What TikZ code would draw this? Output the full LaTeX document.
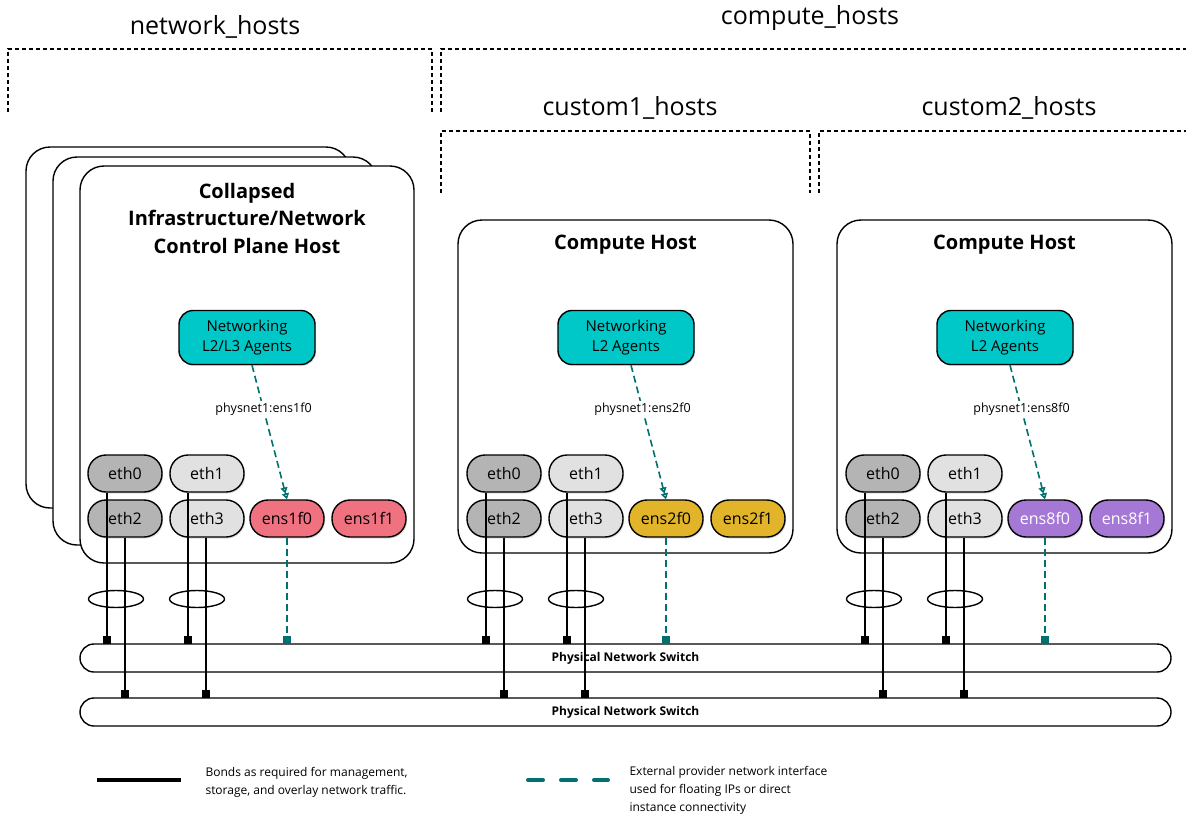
\documentclass[tikz,border=0pt]{standalone}
\usepackage{fontspec}
\setmainfont{Open Sans}
\usetikzlibrary{arrows.meta,shadows,shapes.geometric}
\definecolor{agentc}{RGB}{0,200,200}
\definecolor{extc}{RGB}{0,112,112}
\definecolor{ensA}{RGB}{240,114,128}
\definecolor{ensB}{RGB}{226,180,42}
\definecolor{ensC}{RGB}{166,120,214}
\definecolor{ethdark}{RGB}{180,180,180}
\definecolor{ethlight}{RGB}{225,225,225}
\begin{document}
\begin{tikzpicture}[x=1pt,y=-1pt,
  brk/.style={dash pattern=on 4pt off 3pt, line width=1.3pt},
  grouplabel/.style={font=\fontsize{25}{30}\selectfont},
  hostbox/.style={draw, line width=1.4pt, rounded corners=24pt, fill=white, inner sep=0},
  hosttitle/.style={font=\bfseries\fontsize{20}{27.5}\selectfont, align=center},
  shad/.style={drop shadow={opacity=0.25, shadow xshift=1.2pt, shadow yshift=-1.5pt}},
  agent/.style={draw, line width=1.4pt, fill=agentc, rounded corners=14pt, minimum width=136pt, minimum height=54pt, inner sep=0, align=center, font=\fontsize{15}{20.5}\selectfont, shad},
  pill/.style={draw, line width=1.4pt, rounded corners=18pt, minimum width=74pt, minimum height=37pt, inner sep=0, font=\fontsize{16}{18}\selectfont, shad},
  bondring/.style={draw, ellipse, line width=1.4pt, minimum width=55pt, minimum height=17pt, inner sep=0},
  sq/.style={rectangle, fill=black, minimum size=8pt, inner sep=0},
  switchbox/.style={draw, line width=1.4pt, rounded corners=14pt, fill=white, minimum width=1091pt, minimum height=28pt, inner sep=0, font=\bfseries\fontsize{12}{14}\selectfont},
  bond/.style={line width=1.4pt},
  ext/.style={extc, line width=1.6pt, dash pattern=on 7pt off 4pt},
  plabel/.style={fill=white, inner sep=2pt, text=black, font=\fontsize{12.5}{15}\selectfont},
  legtext/.style={anchor=west, align=left, font=\fontsize{12}{18}\selectfont}
]
\useasboundingbox (0,0) rectangle (1186,814);

% group brackets
\draw[brk] (8,112) -- (8,49) -- (432,49) -- (432,112);
\draw[brk] (441,112) -- (441,49) -- (1186,49);
\draw[brk] (441,193) -- (441,131) -- (810,131) -- (810,193);
\draw[brk] (819,193) -- (819,131) -- (1186,131);
\node[grouplabel] (gl1) at (215,27) {network\_hosts};
\node[grouplabel] (gl2) at (810,18) {compute\_hosts};
\node[grouplabel] (gl3) at (630,108) {custom1\_hosts};
\node[grouplabel] (gl4) at (1009,108) {custom2\_hosts};

% host boxes
\node[hostbox, minimum width=324pt, minimum height=361pt] (hb1) at (188,327.5) {};
\node[hostbox, minimum width=324pt, minimum height=388pt] (hb2) at (215,351) {};
\node[hostbox, minimum width=334pt, minimum height=397pt] (h1) at (247,364.5) {};
\node[hostbox, minimum width=335pt, minimum height=333pt] (h2) at (625.5,386.5) {};
\node[hostbox, minimum width=335pt, minimum height=333pt] (h3) at (1004.5,386.5) {};
\node[hosttitle] (t1) at (247,218) {Collapsed\\Infrastructure/Network\\Control Plane Host};
\node[hosttitle] (t2) at (625.5,245) {Compute Host};
\node[hosttitle] (t3) at (1004.5,245) {Compute Host};

% agents
\node[agent] (ag-1) at (247,337.5) {Networking\\L2/L3 Agents};
\node[agent] (ag-2) at (626,337.5) {Networking\\L2 Agents};
\node[agent] (ag-3) at (1005,337.5) {Networking\\L2 Agents};

% switches
\node[switchbox] (sw1) at (625.5,658) {Physical Network Switch};
\node[switchbox] (sw2) at (625.5,712) {Physical Network Switch};

\foreach \h/\X/\ea/\eb/\fc/\tc in {1/125/ens1f0/ens1f1/ensA/black, 2/504/ens2f0/ens2f1/ensB/black, 3/883/ens8f0/ens8f1/ensC/white}{
  \node[pill, fill=ethdark] (e0-\h) at (\X,473.5) {eth0};
  \node[pill, fill=ethdark] (e2-\h) at (\X,518.5) {eth2};
  \node[pill, fill=ethlight] (e1-\h) at (\X+82,473.5) {eth1};
  \node[pill, fill=ethlight] (e3-\h) at (\X+82,518.5) {eth3};
  \node[pill, fill=\fc, text=\tc] (ea-\h) at (\X+162,518.5) {\ea};
  \node[pill, fill=\fc, text=\tc] (eb-\h) at (\X+244,518.5) {\eb};
  \node[bondring] (r0-\h) at (\X-9,599) {};
  \node[bondring] (r1-\h) at (\X+72,599) {};
  \node[sq] (q0-\h) at (\X-18,640) {};
  \node[sq] (q1-\h) at (\X+63,640) {};
  \node[sq] (q2-\h) at (\X,694) {};
  \node[sq] (q3-\h) at (\X+81,694) {};
  \node[sq, fill=extc] (qa-\h) at (\X+162,640) {};
  \draw[bond] (e0-\h.south -| q0-\h) -- (q0-\h.north);
  \draw[bond] (e2-\h.south -| q2-\h) -- (q2-\h.north);
  \draw[bond] (e1-\h.south -| q1-\h) -- (q1-\h.north);
  \draw[bond] (e3-\h.south -| q3-\h) -- (q3-\h.north);
  \draw[ext] (ea-\h.south) -- (qa-\h.north);
  \draw[ext, -{Triangle[open,length=6pt,width=7pt]Triangle[open,length=6pt,width=7pt]}]
    ([xshift=5pt]ag-\h.south) -- node[plabel, pos=0.33, solid] (pl-\h) {physnet1:\ea} (ea-\h.north);
}

% legend
\coordinate (la1) at (97,780);
\coordinate (la2) at (181,780);
\coordinate (lb1) at (528,780);
\coordinate (lb2) at (608,780);
\draw[line width=4pt] (la1) -- (la2);
\draw[extc, line width=4pt, line cap=round, dash pattern=on 15pt off 18pt] (lb1) -- (lb2);
\node[legtext] (lt1) at (202,782) {Bonds as required for management,\\storage, and overlay network traffic.};
\node[legtext] (lt2) at (626,790) {External provider network interface\\used for floating IPs or direct\\instance connectivity};
\end{tikzpicture}
\end{document}
